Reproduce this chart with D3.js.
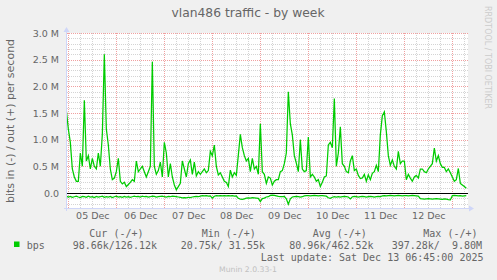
<!DOCTYPE html>
<html>
<head>
<meta charset="utf-8">
<script src="https://cdn.jsdelivr.net/npm/d3@7"></script>
<style>
body { margin: 0; background: #f0f0f0; }
svg { display: block; }
</style>
</head>
<body>
<div id="chart"></div>
<script>
// first sample time, one sample per hour after that
var firstSample = new Date(2025, 11, 4, 23, 0);

// out (+) traffic, Mbit/s, hourly
var outMbps = [
    1.55, 1.2, 0.95, 0.45, 0.3, 0.22, 0.22, 0.75, 0.5, 1.74, 0.6, 0.7, 0.45, 0.65, 0.5, 0.45, 0.75, 0.5, 1.1, 2.6, 1.2, 0.9, 0.45, 0.25, 0.28,
    0.4, 0.65, 0.22, 0.17, 0.2, 0.12, 0.16, 0.2, 0.25, 0.22, 0.6, 0.4, 0.45, 0.5, 0.4, 0.3, 0.4, 0.5, 2.46, 0.5, 0.35, 0.42, 0.58, 0.3,
    0.95, 0.75, 0.3, 0.55, 0.3, 0.15, 0.06, 0.12, 0.18, 0.6, 0.45, 0.3, 0.55, 0.62, 0.35, 0.58, 0.32, 0.4, 0.35, 0.4, 0.45, 0.38, 0.42, 0.78,
    0.7, 0.9, 0.5, 0.34, 0.38, 0.3, 0.22, 0.2, 0.12, 0.43, 0.3, 0.38, 0.33, 0.71, 1.1, 0.85, 0.7, 0.6, 0.65, 0.4, 0.65, 0.45, 0.5, 0.35,
    1.3, 0.4, 0.35, 0.18, 0.3, 0.28, 0.15, 0.22, 0.25, 0.25, 0.4, 0.42, 0.55, 0.75, 1.9, 1.3, 1.09, 0.7, 0.56, 0.4, 1.0, 0.45, 0.4, 0.42,
    1.05, 0.3, 0.35, 0.3, 0.22, 0.25, 0.12, 0.2, 0.3, 0.32, 0.9, 0.95, 0.85, 1.77, 0.5, 0.75, 1.24, 0.55, 0.5, 0.4, 0.38, 0.6, 0.7, 0.42,
    0.45, 0.33, 0.27, 0.28, 0.35, 0.22, 0.34, 0.25, 0.37, 0.4, 0.52, 0.4, 1.09, 1.45, 1.52, 1.15, 0.7, 0.52, 0.62, 0.5, 0.45, 0.78, 0.55, 0.6,
    0.6, 0.25, 0.35, 0.28, 0.22, 0.3, 0.33, 0.28, 0.45, 0.45, 0.4, 0.38, 0.45, 0.5, 0.55, 0.84, 0.6, 0.7, 0.55, 0.48, 0.48, 0.4, 0.45, 0.38,
    0.3, 0.22, 0.25, 0.46, 0.18, 0.15, 0.12, 0.09
];

// in (-) traffic, kbit/s, hourly (drawn below zero)
var inKbps = [
    60, 75, 65, 80, 70, 60, 75, 85, 65, 70, 80, 60, 75, 70, 85, 65, 75, 70, 60, 80, 70, 75, 65, 85, 70, 60, 75, 70, 80, 65, 75, 70, 80, 70,
    60, 70, 65, 75, 60, 70, 65, 75, 70, 60, 65, 75, 70, 65, 60, 70, 75, 65, 70, 60, 65, 70, 75, 80, 90, 85, 90, 80, 85, 75, 70, 65, 70, 60,
    50, 55, 50, 60, 55, 95, 60, 50, 55, 50, 55, 50, 55, 50, 55, 50, 60, 55, 100, 115, 120, 110, 95, 90, 95, 85, 90, 95, 100, 160, 105, 95, 75, 70,
    45, 40, 45, 55, 65, 70, 70, 65, 110, 210, 110, 75, 70, 65, 70, 75, 70, 55, 50, 50, 55, 50, 45, 50, 55, 50, 50, 55, 60, 90, 100, 80, 70, 75,
    70, 75, 70, 65, 70, 75, 110, 70, 65, 70, 75, 70, 65, 70, 75, 70, 65, 70, 75, 70, 65, 70, 55, 50, 55, 50, 45, 50, 55, 50, 45, 50, 55, 50,
    50, 55, 50, 45, 50, 55, 60, 105, 110, 115, 110, 105, 110, 115, 110, 105, 110, 115, 120, 110, 115, 125, 130, 50, 45, 50, 55, 50, 60, 55, 50
];

var yTickValues = [0, 0.5e6, 1.0e6, 1.5e6, 2.0e6, 2.5e6, 3.0e6];
var yTickLabels = ["0.0", "0.5 M", "1.0 M", "1.5 M", "2.0 M", "2.5 M", "3.0 M"];

var legendHeads = ["Cur (-/+)", "Min (-/+)", "Avg (-/+)", "Max (-/+)"];
var legendValues = ["98.66k/126.12k", "20.75k/ 31.55k", "80.96k/462.52k", "397.28k/  9.80M"];
var seriesName = "bps";
var lastUpdate = "Last update: Sat Dec 13 06:45:00 2025";

var title = "vlan486 traffic - by week";
var yTitle = "bits in (-) / out (+) per second";

function init() {
    var w = 497, h = 280;
    var left = 67, right = 467, top = 33, bottom = 208;

    var svg = d3.select("#chart").append("svg")
        .attr("width", w)
        .attr("height", h)
        .style("font-family", "'DejaVu Sans', sans-serif");

    svg.append("rect").attr("width", w).attr("height", h).attr("fill", "#f0f0f0");

    var hour = 3600 * 1000;
    var t0 = new Date(2025, 11, 4, 23, 20);
    var t1 = new Date(t0.getTime() + 200 * hour);

    var x = d3.scaleTime().domain([t0, t1]).range([left, right]);
    var y = d3.scaleLinear().domain([-0.28125e6, 3e6]).range([bottom, top]);

    var outData = outMbps.map(function (v, i) {
        return { t: new Date(firstSample.getTime() + i * hour), v: v * 1e6 };
    });
    var inData = inKbps.map(function (v, i) {
        return { t: new Date(firstSample.getTime() + i * hour), v: -v * 1e3 };
    });

    // canvas
    svg.append("rect")
        .attr("x", left).attr("y", top)
        .attr("width", right - left + 1).attr("height", bottom - top)
        .attr("fill", "#fff");

    var grid = svg.append("g").attr("shape-rendering", "crispEdges");

    // minor grid
    var minorY = d3.range(-2, 31).map(function (k) { return k * 1e5; })
        .filter(function (v) { return v % 5e5 !== 0; });
    grid.selectAll(".hminor").data(minorY).enter().append("line")
        .attr("x1", left).attr("x2", right + 1)
        .attr("y1", function (d) { return Math.round(y(d)) + 0.5; })
        .attr("y2", function (d) { return Math.round(y(d)) + 0.5; })
        .attr("stroke", "#d4d4d4").attr("stroke-dasharray", "1,1");

    var sixHours = d3.timeHour.every(6).range(t0, t1).filter(function (d) { return d.getHours() !== 0; });
    grid.selectAll(".vminor").data(sixHours).enter().append("line")
        .attr("x1", function (d) { return Math.round(x(d)) + 0.5; })
        .attr("x2", function (d) { return Math.round(x(d)) + 0.5; })
        .attr("y1", top).attr("y2", bottom)
        .attr("stroke", "#d4d4d4").attr("stroke-dasharray", "1,1");

    // major grid
    grid.selectAll(".hmajor").data(yTickValues).enter().append("line")
        .attr("x1", left).attr("x2", right + 1)
        .attr("y1", function (d) { return Math.round(y(d)) + 0.5; })
        .attr("y2", function (d) { return Math.round(y(d)) + 0.5; })
        .attr("stroke", "#f0a0a0").attr("stroke-dasharray", "1,1");

    var midnights = d3.timeDay.range(t0, t1);
    grid.selectAll(".vmajor").data(midnights).enter().append("line")
        .attr("x1", function (d) { return Math.round(x(d)) + 0.5; })
        .attr("x2", function (d) { return Math.round(x(d)) + 0.5; })
        .attr("y1", top).attr("y2", bottom)
        .attr("stroke", "#f0a0a0").attr("stroke-dasharray", "1,1");

    // data lines
    svg.append("clipPath").attr("id", "clip")
        .append("rect").attr("x", left).attr("y", top)
        .attr("width", right - left + 1).attr("height", bottom - top);

    var line = d3.line()
        .x(function (d) { return x(d.t); })
        .y(function (d) { return y(d.v); });

    var plot = svg.append("g").attr("clip-path", "url(#clip)");
    plot.append("path").datum(inData).attr("d", line)
        .attr("fill", "none").attr("stroke", "#00cc00").attr("stroke-width", 1.25);
    plot.append("path").datum(outData).attr("d", line)
        .attr("fill", "none").attr("stroke", "#00cc00").attr("stroke-width", 1.25);

    // zero line
    svg.append("line")
        .attr("x1", left).attr("x2", right + 1)
        .attr("y1", Math.round(y(0)) + 0.5).attr("y2", Math.round(y(0)) + 0.5)
        .attr("stroke", "#000").attr("stroke-width", 1.2);

    // axes with arrows
    var axisCol = "#cfd6f8";
    svg.append("line").attr("x1", left - 0.5).attr("x2", left - 0.5)
        .attr("y1", bottom + 3).attr("y2", top - 4)
        .attr("stroke", axisCol);
    svg.append("path")
        .attr("d", "M" + (left - 3.5) + "," + (top - 1) + "L" + (left - 0.5) + "," + (top - 6) + "L" + (left + 2.5) + "," + (top - 1) + "Z")
        .attr("fill", axisCol);
    svg.append("line").attr("x1", left - 3).attr("x2", right + 4)
        .attr("y1", bottom + 0.5).attr("y2", bottom + 0.5)
        .attr("stroke", axisCol);
    svg.append("path")
        .attr("d", "M" + (right + 2) + "," + (bottom - 2.5) + "L" + (right + 7) + "," + (bottom + 0.5) + "L" + (right + 2) + "," + (bottom + 3.5) + "Z")
        .attr("fill", axisCol);

    // y axis labels
    var yAxis = d3.axisLeft(y)
        .tickValues(yTickValues)
        .tickSize(0)
        .tickPadding(8)
        .tickFormat(function (d, i) { return yTickLabels[i]; });
    var ya = svg.append("g").attr("transform", "translate(" + left + ",0)").call(yAxis);
    ya.select(".domain").remove();
    ya.selectAll("text")
        .attr("fill", "#666").attr("font-size", "9.5px")
        .attr("font-family", "'DejaVu Sans', sans-serif");

    // x axis labels at noon
    var noons = midnights.map(function (d) { return d3.timeHour.offset(d, 12); })
        .filter(function (d) { return d < t1; });
    var xAxis = d3.axisBottom(x)
        .tickValues(noons)
        .tickSize(0)
        .tickPadding(4)
        .tickFormat(d3.timeFormat("%d %b"));
    var xa = svg.append("g").attr("transform", "translate(0," + bottom + ")").call(xAxis);
    xa.select(".domain").remove();
    xa.selectAll("text")
        .attr("fill", "#666").attr("font-size", "9.5px")
        .attr("font-family", "'DejaVu Sans', sans-serif");

    // titles
    svg.append("text").attr("x", 248).attr("y", 17)
        .attr("text-anchor", "middle").attr("font-size", "12.3px").attr("fill", "#666")
        .text(title);
    svg.append("text")
        .attr("transform", "translate(14,121) rotate(-90)")
        .attr("text-anchor", "middle").attr("font-size", "11px").attr("fill", "#666")
        .text(yTitle);
    svg.append("text")
        .attr("transform", "translate(485,6) rotate(90)")
        .attr("font-size", "8px").attr("fill", "#cccccc")
        .text("RRDTOOL / TOBI OETIKER");

    // legend
    var mono = "'DejaVu Sans Mono', monospace";
    var headX = [89.3, 201.7, 312.7, 423.3];
    var valX = [72.7, 180.7, 289.3, 391.7];
    var legend = svg.append("g")
        .attr("font-family", mono).attr("font-size", "10px").attr("fill", "#666")
        .attr("xml:space", "preserve");
    legend.selectAll(".head").data(legendHeads).enter().append("text")
        .attr("x", function (d, i) { return headX[i]; }).attr("y", 237)
        .style("white-space", "pre")
        .text(function (d) { return d; });
    legend.selectAll(".val").data(legendValues).enter().append("text")
        .attr("x", function (d, i) { return valX[i]; }).attr("y", 248.5)
        .style("white-space", "pre")
        .text(function (d) { return d; });
    legend.append("rect").attr("x", 14).attr("y", 241.5).attr("width", 5.5).attr("height", 5.5)
        .attr("fill", "#00cc00");
    legend.append("text").attr("x", 26.7).attr("y", 248.5).text(seriesName);
    legend.append("text").attr("x", 483.5).attr("y", 261).attr("text-anchor", "end")
        .style("white-space", "pre").text(lastUpdate);

    svg.append("text").attr("x", 219).attr("y", 272)
        .attr("font-size", "7.7px").attr("fill", "#c0c0c0")
        .text("Munin 2.0.33-1");
}

window.onload = init;
</script>
</body>
</html>
